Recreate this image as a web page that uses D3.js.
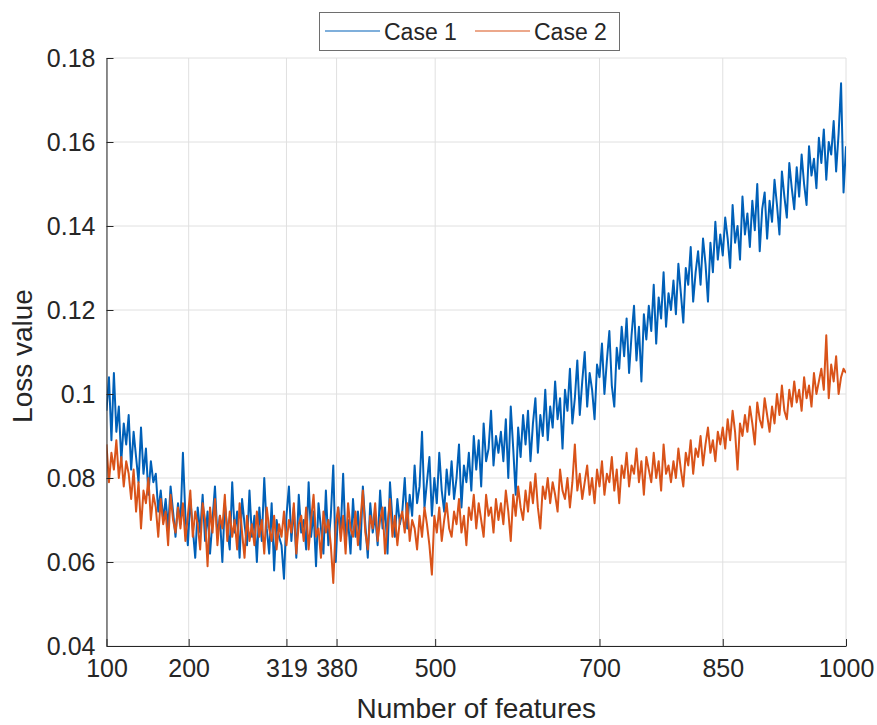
<!DOCTYPE html>
<html>
<meta charset="utf-8">
<style>
body { margin: 0; background: #fff; }
text { font-family: "Liberation Sans", Arial, sans-serif; fill: #262626; }
</style>
<body>
<script src="https://d3js.org/d3.v7.min.js"></script>
<script>
// number of features, sampled every 3 from 100 to 1000
var features = d3.range(100, 1001, 3);

var case1 = [
  0.096, 0.104, 0.089, 0.105, 0.091, 0.097, 0.084, 0.093, 0.088, 0.095,
  0.082, 0.091, 0.085, 0.079, 0.092, 0.081, 0.087, 0.076, 0.084, 0.079,
  0.081, 0.072, 0.077, 0.070, 0.075, 0.068, 0.078, 0.072, 0.066, 0.074,
  0.069, 0.086, 0.071, 0.064, 0.075, 0.068, 0.061, 0.073, 0.067, 0.076,
  0.065, 0.072, 0.062, 0.070, 0.078, 0.066, 0.071, 0.060, 0.074, 0.068,
  0.063, 0.079, 0.067, 0.072, 0.061, 0.075, 0.069, 0.064, 0.077, 0.066,
  0.071, 0.060, 0.073, 0.065, 0.080, 0.068, 0.062, 0.074, 0.058, 0.070,
  0.066, 0.064, 0.056, 0.071, 0.078, 0.065, 0.073, 0.061, 0.076, 0.067,
  0.070, 0.063, 0.079, 0.066, 0.072, 0.059, 0.074, 0.068, 0.062, 0.077,
  0.064, 0.071, 0.083, 0.060, 0.073, 0.067, 0.081, 0.065, 0.070, 0.062,
  0.075, 0.066, 0.072, 0.063, 0.078, 0.069, 0.061, 0.074, 0.067, 0.071,
  0.064, 0.077, 0.068, 0.073, 0.062, 0.079, 0.070, 0.066, 0.075, 0.069,
  0.072, 0.080, 0.068, 0.076, 0.071, 0.083, 0.074, 0.078, 0.091, 0.073,
  0.079, 0.085, 0.071, 0.080, 0.074, 0.086, 0.077, 0.072, 0.082, 0.076,
  0.084, 0.075, 0.080, 0.088, 0.073, 0.083, 0.079, 0.086, 0.077, 0.090,
  0.082, 0.089, 0.078, 0.093, 0.084, 0.087, 0.096, 0.083, 0.090, 0.086,
  0.091, 0.084, 0.094, 0.080, 0.097, 0.087, 0.076, 0.092, 0.085, 0.095,
  0.088, 0.096, 0.084, 0.093, 0.099, 0.086, 0.095, 0.090, 0.101, 0.089,
  0.097, 0.092, 0.103, 0.094, 0.099, 0.087, 0.101, 0.096, 0.106, 0.093,
  0.099, 0.108, 0.095, 0.103, 0.110, 0.097, 0.105, 0.101, 0.094, 0.107,
  0.104, 0.112, 0.100, 0.108, 0.115, 0.102, 0.097, 0.111, 0.106, 0.116,
  0.109, 0.118, 0.105, 0.114, 0.121, 0.108, 0.116, 0.103, 0.119, 0.113,
  0.121, 0.115, 0.126, 0.112, 0.123, 0.118, 0.129, 0.116, 0.124, 0.120,
  0.127, 0.119, 0.131, 0.124, 0.117, 0.130, 0.126, 0.135, 0.122, 0.129,
  0.134, 0.126, 0.137, 0.131, 0.122, 0.136, 0.129, 0.141, 0.132, 0.138,
  0.133, 0.142, 0.137, 0.130, 0.145, 0.136, 0.140, 0.132, 0.147, 0.138,
  0.143, 0.135, 0.146, 0.139, 0.150, 0.134, 0.144, 0.148, 0.137, 0.146,
  0.141, 0.151, 0.145, 0.138, 0.153, 0.147, 0.142, 0.155, 0.149, 0.144,
  0.154, 0.147, 0.157, 0.150, 0.145, 0.159, 0.152, 0.156, 0.149, 0.161,
  0.155, 0.163, 0.151, 0.160, 0.157, 0.165, 0.153, 0.162, 0.174, 0.148,
  0.159
];

var case2 = [
  0.088, 0.079, 0.086, 0.082, 0.089, 0.080, 0.085, 0.078, 0.084, 0.081,
  0.075, 0.082, 0.072, 0.079, 0.068, 0.077, 0.074, 0.080, 0.070, 0.076,
  0.073, 0.066, 0.075, 0.069, 0.072, 0.064, 0.076, 0.070, 0.067, 0.073,
  0.068, 0.074, 0.065, 0.071, 0.077, 0.066, 0.072, 0.069, 0.063, 0.074,
  0.070, 0.059, 0.073, 0.067, 0.075, 0.064, 0.071, 0.068, 0.076, 0.065,
  0.072, 0.066, 0.070, 0.063, 0.074, 0.067, 0.061, 0.071, 0.065, 0.069,
  0.064, 0.072, 0.066, 0.070, 0.062, 0.073, 0.068, 0.065, 0.071, 0.063,
  0.069, 0.066, 0.072, 0.064, 0.070, 0.067, 0.074, 0.062, 0.069, 0.071,
  0.065, 0.073, 0.063, 0.070, 0.076, 0.066, 0.068, 0.061, 0.072, 0.067,
  0.070, 0.064, 0.055, 0.069, 0.073, 0.065, 0.071, 0.062, 0.074, 0.068,
  0.066, 0.072, 0.064, 0.070, 0.077, 0.067, 0.063, 0.071, 0.068, 0.074,
  0.065, 0.070, 0.073, 0.062, 0.069, 0.075, 0.066, 0.071, 0.064, 0.070,
  0.072, 0.067, 0.074, 0.065, 0.070, 0.068, 0.063, 0.071, 0.066, 0.073,
  0.069, 0.064, 0.057, 0.071, 0.067, 0.073, 0.065, 0.070, 0.074, 0.068,
  0.066, 0.072, 0.069, 0.075, 0.067, 0.071, 0.064, 0.073, 0.070, 0.076,
  0.068, 0.074, 0.070, 0.066, 0.076, 0.071, 0.073, 0.067, 0.075, 0.070,
  0.074, 0.069, 0.077, 0.072, 0.065, 0.076, 0.071, 0.078, 0.073, 0.070,
  0.077, 0.072, 0.079, 0.074, 0.081, 0.073, 0.068, 0.078, 0.075, 0.080,
  0.074, 0.079, 0.076, 0.072, 0.082, 0.077, 0.075, 0.080, 0.073, 0.079,
  0.088, 0.077, 0.081, 0.075, 0.079, 0.083, 0.076, 0.080, 0.074, 0.082,
  0.078, 0.084, 0.076, 0.081, 0.079, 0.085, 0.077, 0.082, 0.074, 0.083,
  0.080, 0.086, 0.078, 0.083, 0.081, 0.087, 0.079, 0.084, 0.076, 0.085,
  0.082, 0.079, 0.086, 0.080, 0.084, 0.077, 0.088, 0.081, 0.083, 0.079,
  0.084, 0.080, 0.087, 0.082, 0.078, 0.086, 0.083, 0.089, 0.081, 0.087,
  0.085, 0.090, 0.083, 0.088, 0.092, 0.086, 0.089, 0.084, 0.091, 0.088,
  0.092, 0.087, 0.094, 0.089, 0.096, 0.091, 0.082, 0.093, 0.090, 0.095,
  0.091, 0.097, 0.093, 0.088, 0.098, 0.094, 0.092, 0.099, 0.095, 0.091,
  0.097, 0.093, 0.100, 0.095, 0.102, 0.096, 0.094, 0.101, 0.097, 0.103,
  0.098, 0.101, 0.096, 0.104, 0.099, 0.102, 0.097, 0.105, 0.100, 0.103,
  0.106, 0.101, 0.114, 0.099, 0.107, 0.103, 0.109, 0.100, 0.104, 0.106,
  0.105
];

var xTicks = [100, 200, 319, 380, 500, 700, 850, 1000];
var yTicks = [0.04, 0.06, 0.08, 0.1, 0.12, 0.14, 0.16, 0.18];
var seriesNames = ["Case 1", "Case 2"];
var colors = ["#0060B8", "#D95319"];

var width = 877, height = 725;
var plotLeft = 106.5, plotRight = 846, plotTop = 58, plotBottom = 646;

var svg = d3.select("body").append("svg")
    .attr("width", width)
    .attr("height", height);

var x = d3.scaleLinear().domain([100, 1000]).range([plotLeft, plotRight]);
var y = d3.scaleLinear().domain([0.04, 0.18]).range([plotBottom, plotTop]);

// grid
svg.append("g").selectAll("line")
  .data(xTicks).enter().append("line")
  .attr("x1", function(d) { return x(d); })
  .attr("x2", function(d) { return x(d); })
  .attr("y1", plotTop).attr("y2", plotBottom)
  .style("stroke", "#e0e0e0").style("stroke-width", 1);

svg.append("g").selectAll("line")
  .data(yTicks).enter().append("line")
  .attr("y1", function(d) { return y(d); })
  .attr("y2", function(d) { return y(d); })
  .attr("x1", plotLeft).attr("x2", plotRight)
  .style("stroke", "#e0e0e0").style("stroke-width", 1);

svg.append("clipPath").attr("id", "clip")
  .append("rect")
  .attr("x", plotLeft).attr("y", plotTop - 2)
  .attr("width", plotRight - plotLeft).attr("height", plotBottom - plotTop + 2);

var line = d3.line()
  .x(function(d, i) { return x(features[i]); })
  .y(function(d) { return y(d); });

svg.append("g").attr("clip-path", "url(#clip)")
  .selectAll("path")
  .data([case1, case2]).enter().append("path")
  .attr("d", line)
  .style("fill", "none")
  .style("stroke", function(d, i) { return colors[i]; })
  .style("stroke-width", 2)
  .style("stroke-linejoin", "round");

// axes, ticks inside like matlab
var xAxis = svg.append("g")
  .attr("transform", "translate(0," + plotBottom + ")")
  .call(d3.axisBottom(x).tickValues(xTicks).tickSizeInner(-7).tickSizeOuter(0).tickPadding(13)
    .tickFormat(function(d) { return String(d); }));

var yAxis = svg.append("g")
  .attr("transform", "translate(" + plotLeft + ",0)")
  .call(d3.axisLeft(y).tickValues(yTicks).tickSizeInner(-7).tickSizeOuter(0).tickPadding(11)
    .tickFormat(function(d) { return String(+d.toFixed(2)); }));

[xAxis, yAxis].forEach(function(a) {
  a.select(".domain").style("stroke", "#262626").style("stroke-width", 1);
  a.selectAll(".tick line").style("stroke", "#262626");
  a.selectAll("text").style("fill", "#262626")
    .style("font-family", '"Liberation Sans", Arial, sans-serif');
});
xAxis.selectAll("text").style("font-size", "25px");
yAxis.selectAll("text").style("font-size", "25px");

svg.append("text")
  .attr("x", (plotLeft + plotRight) / 2).attr("y", 718)
  .attr("text-anchor", "middle")
  .style("font-size", "28px")
  .text("Number of features");

svg.append("text")
  .attr("transform", "translate(32,356) rotate(-90)")
  .attr("text-anchor", "middle")
  .style("font-size", "28px")
  .text("Loss value");

// legend
var legend = svg.append("g");
legend.append("rect")
  .attr("x", 319.5).attr("y", 12.5).attr("width", 300).attr("height", 38)
  .style("fill", "#fff").style("stroke", "#6e6e6e").style("stroke-width", 1);

var items = legend.selectAll("g.item")
  .data(seriesNames).enter().append("g")
  .attr("transform", function(d, i) { return "translate(" + (325 + i * 150) + ",31)"; });
items.append("line")
  .attr("x1", 0).attr("x2", 55).attr("y1", 0).attr("y2", 0)
  .style("stroke", function(d, i) { return colors[i]; })
  .style("stroke-width", 1.2);
items.append("text")
  .attr("x", 59).attr("y", 8.5)
  .style("font-size", "23px")
  .text(function(d) { return d; });
</script>
</body>
</html>
